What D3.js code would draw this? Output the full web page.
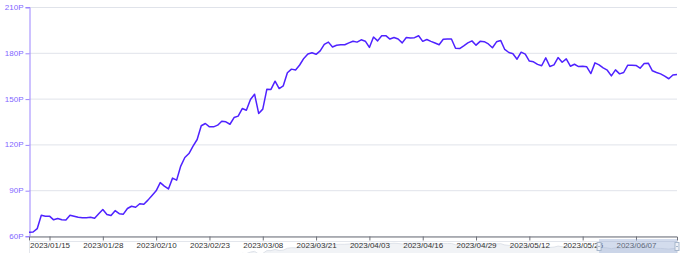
<!DOCTYPE html>
<html>
<head>
<meta charset="utf-8">
<script src="https://cdn.jsdelivr.net/npm/d3@7.9.0/dist/d3.min.js"></script>
<style>
  html, body { margin: 0; padding: 0; background: #fff; }
  svg { display: block; font-family: "Liberation Sans", Arial, sans-serif; }
</style>
</head>
<body>
<svg id="chart" width="690" height="253"></svg>
<script>
// first day of the series, one point per day
const startDay = '2023/01/10';
const values = [
  62.4, 62.6, 64.8, 73.6, 73, 73, 70.6, 71.5, 70.6, 70.5,
  73.6, 73, 72.3, 72, 72, 72.3, 71.6, 74.5, 77.4, 74.1,
  73.4, 76.6, 74.6, 74.3, 78, 79.5, 78.8, 81.1, 80.8, 83.5,
  86.6, 89.6, 95, 92.7, 90.8, 97.9, 96.6, 105.8, 111.4, 114,
  118.8, 123.2, 132.2, 133.7, 131.5, 131.5, 132.6, 135.2, 134.8, 133.2,
  137.6, 138.5, 143.5, 142.4, 149.4, 152.9, 140.3, 143.1, 156.2, 156,
  161.4, 156.6, 158.4, 166.9, 169.3, 168.8, 172, 176.3, 179.2, 180,
  179, 181.3, 185.5, 187, 183.8, 184.9, 185.3, 185.3, 186.5, 187.6,
  187, 188.5, 187.6, 183.5, 190.3, 187.8, 191.2, 191.2, 189, 190,
  189, 186.5, 190, 189.7, 189.9, 191.2, 187.5, 188.7, 187.5, 186.4,
  185.3, 188.9, 189.1, 189, 183, 182.8, 184.6, 186.5, 187.8, 185,
  187.5, 187.3, 185.8, 183.3, 187.2, 188.1, 182.2, 180.2, 179.4, 175.8,
  180.4, 179.1, 174.6, 174.1, 172.4, 171.5, 176.7, 171, 172.1, 176.9,
  173.8, 176, 171.2, 172.5, 171, 171.2, 170.8, 166.4, 173.4, 172.1,
  170.1, 168.6, 164.9, 168.8, 166.2, 167.1, 171.9, 171.9, 171.7, 169.9,
  173, 173.2, 168.2, 167.1, 166.2, 164.7, 163, 165.5, 165.8
];
const xTickLabels = ['2023/01/15', '2023/01/28', '2023/02/10', '2023/02/23', '2023/03/08', '2023/03/21',
  '2023/04/03', '2023/04/16', '2023/04/29', '2023/05/12', '2023/05/25', '2023/06/07'];
const yTicks = [60, 90, 120, 150, 180, 210];

const parse = d3.timeParse('%Y/%m/%d');
const fmt = d3.timeFormat('%Y/%m/%d');
const dates = d3.timeDay.range(parse(startDay), d3.timeDay.offset(parse(startDay), values.length));
const data = dates.map((d, i) => ({ date: d, value: values[i] }));

const svg = d3.select('#chart');
const margin = { left: 29, right: 13, top: 7, bottom: 17 };
const W = 690, H = 253;

const x = d3.scaleTime()
  .domain(d3.extent(dates))
  .range([margin.left, W - margin.right]);
const y = d3.scaleLinear()
  .domain([60, 210])
  .range([H - margin.bottom, margin.top]);

// grid
svg.append('g')
  .selectAll('line')
  .data(yTicks)
  .join('line')
  .attr('x1', margin.left).attr('x2', W - margin.right)
  .attr('y1', d => y(d) + 0.5).attr('y2', d => y(d) + 0.5)
  .attr('stroke', '#e0e3ea')
  .attr('stroke-width', 1);

// data zoom slider background (mostly below the visible area)
const sliderTop = 241, sliderH = 30;
const sy = d3.scaleLinear()
  .domain(d3.extent(values))
  .range([sliderTop + sliderH, sliderTop + 2]);
const shadow = d3.area().x(d => x(d.date)).y0(sliderTop + sliderH).y1(d => sy(d.value));
svg.append('path')
  .datum(data)
  .attr('fill', '#e4e7ee')
  .attr('fill-opacity', 0.5)
  .attr('stroke', '#dfe3ea')
  .attr('d', shadow);
svg.append('rect')
  .attr('x', margin.left + 0.5).attr('y', sliderTop + 0.5)
  .attr('width', W - margin.right - margin.left).attr('height', sliderH)
  .attr('fill', 'none').attr('stroke', '#e3e6ec');

// y axis
const yAxis = svg.append('g')
  .attr('transform', `translate(${margin.left + 0.5},0)`)
  .call(d3.axisLeft(y).tickValues(yTicks).tickFormat(d => d + 'P').tickSize(4).tickPadding(2));
yAxis.select('.domain').attr('stroke', '#9b84ff');
yAxis.selectAll('.tick line').attr('stroke', '#9b84ff').attr('transform', 'translate(0,0.5)');
yAxis.selectAll('.tick text').attr('fill', '#8266ff').attr('font-size', 8).attr('font-family', null);

// x axis
const xAxis = svg.append('g')
  .attr('transform', `translate(0,${H - margin.bottom + 0.5})`)
  .call(d3.axisBottom(x).tickValues(xTickLabels.map(parse)).tickFormat(fmt).tickSizeOuter(0).tickSize(4).tickPadding(2));
xAxis.select('.domain').attr('stroke', '#6e7079');
xAxis.selectAll('.tick line').attr('stroke', '#6e7079');
xAxis.selectAll('.tick text').attr('fill', '#333').attr('font-size', 8).attr('font-family', null);

// series
const line = d3.line().x(d => x(d.date)).y(d => y(d.value));
svg.append('path')
  .datum(data)
  .attr('fill', 'none')
  .attr('stroke', '#4f22ff')
  .attr('stroke-width', 1.5)
  .attr('stroke-linejoin', 'round')
  .attr('d', line);

// selected window of the slider
const zoomStart = x(parse('2023/05/29')), zoomEnd = x(parse('2023/06/17'));
svg.append('rect')
  .attr('x', zoomStart).attr('y', 239)
  .attr('width', zoomEnd - zoomStart).attr('height', 20)
  .attr('fill', 'rgb(150,172,212)').attr('fill-opacity', 0.42);
[zoomStart, zoomEnd].forEach(hx => {
  svg.append('rect')
    .attr('x', hx - 2).attr('y', 242.5).attr('width', 4).attr('height', 8)
    .attr('fill', '#eef1f7').attr('stroke', '#a7b7cc');
  svg.append('line')
    .attr('x1', hx - 1).attr('x2', hx + 1).attr('y1', 246.5).attr('y2', 246.5)
    .attr('stroke', '#a7b7cc');
});
</script>
</body>
</html>
